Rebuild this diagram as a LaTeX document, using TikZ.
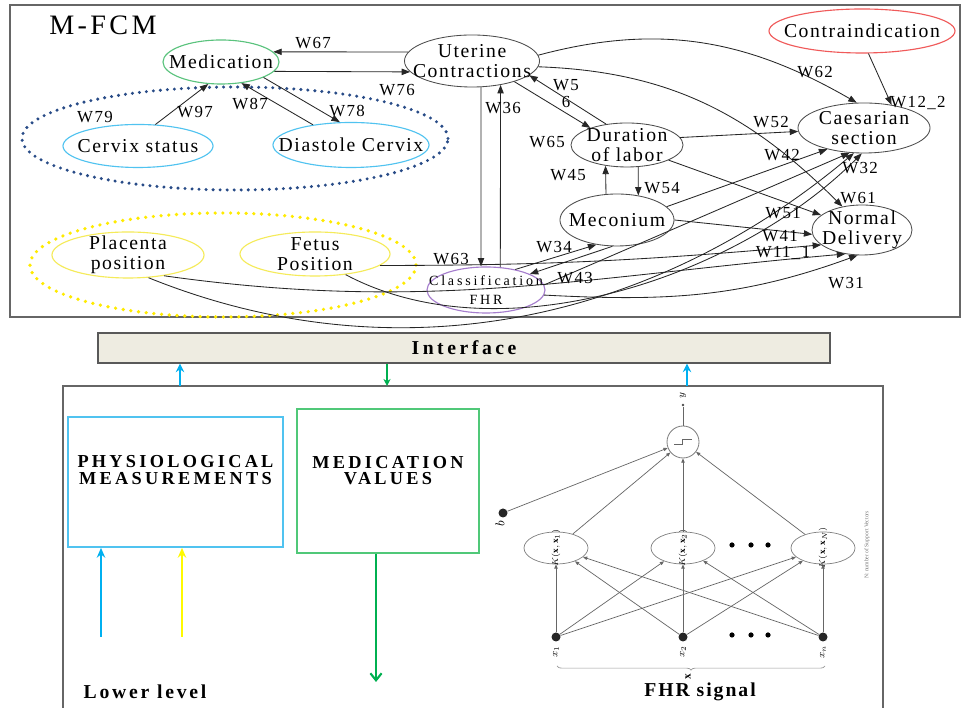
\documentclass[tikz,border=0pt]{standalone}
\usepackage{fontspec}
\setmainfont{Liberation Serif}
\usetikzlibrary{shapes.geometric,arrows.meta,decorations.pathreplacing}
\definecolor{medgreen}{RGB}{90,195,125}
\definecolor{cerblue}{RGB}{80,195,240}
\definecolor{posyellow}{RGB}{245,235,90}
\definecolor{contrared}{RGB}{240,90,90}
\definecolor{fhrpurple}{RGB}{165,125,205}
\definecolor{dotblue}{RGB}{40,75,135}
\definecolor{dotyellow}{RGB}{255,235,0}
\definecolor{ifbeige}{RGB}{238,236,225}
\definecolor{arrblue}{RGB}{0,176,240}
\definecolor{arryellow}{RGB}{255,250,0}
\definecolor{arrgreen}{RGB}{0,176,80}
\definecolor{boxgreen}{RGB}{80,200,120}
\begin{document}
\begin{tikzpicture}[x=0.025cm,y=0.025cm,
  >={Triangle[length=6pt,width=4.5pt]},
  fcm/.style={ellipse,draw=black!70,line width=0.6pt,inner sep=0pt},
  lbl/.style={font=\fontsize{14}{14.5}\selectfont\addfontfeatures{LetterSpace=8},align=center,inner sep=0pt},
  smalllbl/.style={font=\fontsize{10}{13.5}\selectfont\addfontfeatures{LetterSpace=20},align=center,inner sep=0pt},
  wt/.style={font=\fontsize{12}{12}\selectfont\addfontfeatures{LetterSpace=8},inner sep=0pt,align=center},
  edge/.style={->,line width=0.6pt,black!85},
  caps/.style={font=\fontsize{13}{12}\selectfont\bfseries\addfontfeatures{LetterSpace=18},align=center,inner sep=0pt},
  bold/.style={font=\fontsize{14}{14}\selectfont\bfseries\addfontfeatures{LetterSpace=14},inner sep=0pt},
  frame/.style={draw=black!60,line width=1.2pt},
  knode/.style={ellipse,draw=black!50,line width=0.5pt,minimum width=1.6cm,minimum height=0.8cm,inner sep=0pt},
  innode/.style={circle,fill=black!85,minimum size=0.225cm,inner sep=0pt},
  nnedge/.style={-{Triangle[length=3pt,width=2.4pt]},black!60,line width=0.5pt},
  tinylbl/.style={rotate=90,font=\fontsize{7}{7}\selectfont,inner sep=0pt}]
\useasboundingbox (0,0) rectangle (961,708);
\fill[white] (0,0) rectangle (961,708);

% upper level: M-FCM
\draw[frame] (10,391) rectangle (960,703);
\node[font=\fontsize{20}{20}\selectfont\addfontfeatures{LetterSpace=12},inner sep=0pt] (title) at (103,683) {M-FCM};
\draw[dotblue,line width=2.4pt,line cap=round,dash pattern=on 0pt off 5pt] (235,569.5) ellipse [x radius=213,y radius=51.5];
\draw[dotyellow,line width=2.6pt,line cap=round,dash pattern=on 0pt off 5.5pt] (223,443) ellipse [x radius=193,y radius=52];

\node[fcm,draw=medgreen,line width=0.8pt,minimum width=2.9cm,minimum height=1.1cm,label={[lbl]center:Medication}] (med) at (221,646) {};
\node[fcm,minimum width=3.375cm,minimum height=1.3cm,label={[lbl]center:{Uterine\\Contractions}}] (uc) at (472,647) {};
\node[fcm,draw=contrared,line width=0.8pt,minimum width=4.65cm,minimum height=1.1cm,label={[lbl]center:Contraindication}] (contra) at (862,677) {};
\node[fcm,minimum width=3.3cm,minimum height=1.25cm,label={[lbl]center:{Caesarian\\section}}] (cs) at (864,580) {};
\node[fcm,minimum width=2.5cm,minimum height=1.25cm,label={[lbl]center:{Normal\\Delivery}}] (nd) at (862,478) {};
\node[fcm,minimum width=2.8cm,minimum height=1.1cm,label={[lbl]center:{Duration\\of labor}}] (dol) at (627,563) {};
\node[fcm,minimum width=2.85cm,minimum height=1.3cm,label={[lbl]center:Meconium}] (mec) at (617,488) {};
\node[fcm,draw=fhrpurple,line width=0.8pt,minimum width=2.95cm,minimum height=1.15cm,label={[smalllbl]center:{Classification\\FHR}}] (fhr) at (486,418) {};
\node[fcm,draw=cerblue,line width=0.8pt,minimum width=3.75cm,minimum height=1.075cm,label={[lbl]center:Cervix status}] (cvs) at (138,562) {};
\node[fcm,draw=cerblue,line width=0.8pt,minimum width=3.9cm,minimum height=1.125cm,label={[lbl]center:Diastole Cervix}] (dc) at (351,563) {};
\node[fcm,draw=posyellow,line width=0.8pt,minimum width=3.8cm,minimum height=1.15cm,label={[lbl]center:{Placenta\\position}}] (pp) at (128,453) {};
\node[fcm,draw=posyellow,line width=0.8pt,minimum width=3.75cm,minimum height=1.1cm,label={[lbl]center:{Fetus\\Position}}] (fp) at (315,454) {};

% weights
\draw[edge] (uc.172) -- (med.11);
\draw[edge] (med.-10) -- (uc.190);
\draw[edge] (cvs.51) -- (med.-120);
\draw[edge] (dc.152) -- (med.-46);
\draw[edge] (med.-20) -- (dc.116);
\draw[edge] (uc.5) to[out=15,in=150] (cs.106);
\draw[edge] (uc.-5) to[out=-2,in=135] (nd.130);
\draw[edge] (contra.-74) -- (cs.40);
\draw[edge] (uc.-26) -- (dol.155);
\draw[edge] (dol.135) -- (uc.-14);
\draw[edge] (fhr.58) -- (uc.-40);
\draw[edge] (uc.-71) -- (fhr.102);
\draw[edge] (mec.113) -- (dol.-136);
\draw[edge] (dol.-63) -- (mec.49);
\draw[edge] (dol.8) -- (cs.183);
\draw[edge] (dol.-20) -- (nd.160);
\draw[edge] (mec.15) -- (cs.-150);
\draw[edge] (mec.0) -- (nd.185);
\draw[edge] (fhr.35) -- (mec.-130);
\draw[edge] (mec.-100) -- (fhr.20);
\draw[edge] (fhr.5) -- (cs.-120);
\draw[edge] (fhr.-5) to[out=-3,in=200] (nd.-100);
\draw[edge] (fp.-10) to[out=0,in=185] (nd.-160);
\draw[edge] (pp.-30) to[out=-8,in=185] (nd.-125);
\draw[edge] (pp.-48) to[out=-22,in=-140,looseness=0.95] (cs.-112);
\draw[edge] (fp.-34) to[out=-28,in=-135,looseness=0.85] (cs.-95);

\node[wt] (w67) at (313,665) {W67};
\node[wt] (w76) at (397,618) {W76};
\node[wt] (w97) at (195,596) {W97};
\node[wt] (w87) at (250,604) {W87};
\node[wt] (w78) at (347,597) {W78};
\node[wt] (w79) at (95,591) {W79};
\node[wt] (w62) at (815,636) {W62};
\node[wt] (w122) at (918,605) {W12\_2};
\node[wt] (w56) at (566,614) {W5\\6};
\node[wt] (w65) at (547,566) {W65};
\node[wt] (w36) at (503,600) {W36};
\node[wt] (w63) at (451,449) {W63};
\node[wt] (w45) at (568,533) {W45};
\node[wt] (w54) at (662,520) {W54};
\node[wt] (w52) at (771,586) {W52};
\node[wt] (w42) at (782,553) {W42};
\node[wt] (w32) at (860,540) {W32};
\node[wt] (w61) at (858,510) {W61};
\node[wt] (w51) at (783,495) {W51};
\node[wt] (w41) at (780,472) {W41};
\node[wt] (w111) at (783,455) {W11\_1};
\node[wt] (w34) at (554,461) {W34};
\node[wt] (w43) at (575,430) {W43};
\node[wt] (w31) at (846,425) {W31};

% interface
\node[draw=black!65,line width=1pt,fill=ifbeige,minimum width=18.3cm,minimum height=0.75cm,inner sep=0pt,font=\fontsize{14}{14}\selectfont\bfseries\addfontfeatures{LetterSpace=18}] (iface) at (464,360) {Interface};

% lower level
\draw[frame] (63,-5) -- (63,322) -- (883,322) -- (883,-5);
\coordinate (up1) at (180,322);
\coordinate (dn1) at (387,322);
\coordinate (up2) at (687,322);
\draw[-{Stealth[length=6pt,width=6pt]},arrblue,line width=1.6pt] (up1) -- (up1 |- iface.south);
\draw[-{Stealth[length=5pt,width=5pt]},arrgreen,line width=1.6pt] (dn1 |- iface.south) -- (dn1);
\draw[-{Stealth[length=6pt,width=6pt]},arrblue,line width=1.6pt] (up2) -- (up2 |- iface.south);

\node[draw=cerblue,line width=1.2pt,minimum width=5.375cm,minimum height=3.25cm,inner sep=0pt,label={[caps,yshift=0.29cm]center:{PHYSIOLOGICAL\\MEASUREMENTS}}] (phys) at (175.5,226) {};
\node[draw=boxgreen,line width=1.2pt,minimum width=4.55cm,minimum height=3.6cm,inner sep=0pt,label={[caps,yshift=0.26cm]center:{MEDICATION\\VALUES}}] (mval) at (388,227) {};
\coordinate (sens1) at (101,71);
\coordinate (sens2) at (182,71);
\coordinate (dose) at (376,26);
\draw[-{Stealth[length=7pt,width=6pt]},arrblue,line width=1.5pt] (sens1) -- (sens1 |- phys.south);
\draw[-{Stealth[length=7pt,width=6pt]},arryellow,line width=1.5pt] (sens2) -- (sens2 |- phys.south);
\draw[-{Straight Barb[length=5pt,width=8pt]},arrgreen,line width=1.5pt] (mval.south -| dose) -- (dose);
\node[bold] (lower) at (145,16) {Lower level};

% SVM network
\node[circle,draw=black!50,line width=0.6pt,minimum size=0.8cm,inner sep=0pt] (outn) at (683,266) {};
\draw[black!60,line width=0.6pt] ([xshift=-0.22cm,yshift=-0.07cm]outn.center) -- ++(0.2cm,0) -- ++(0,0.14cm) -- ++(0.24cm,0);
\node[circle,fill=black!70,minimum size=2pt,inner sep=0pt] (yd) at (683,303) {};
\node[tinylbl] (ylbl) at (683,313) {$y$};
\node[innode] (bn) at (503,195) {};
\node[tinylbl,font=\fontsize{9}{9}\selectfont] (blbl) at (500,184) {$b$};
\node[knode,label={[tinylbl,font=\fontsize{6.5}{6.5}\selectfont]center:$K(\mathbf{x},\mathbf{x}_1)$}] (k1) at (556,160) {};
\node[knode,label={[tinylbl,font=\fontsize{6.5}{6.5}\selectfont]center:$K(\mathbf{x},\mathbf{x}_2)$}] (k2) at (683,160) {};
\node[knode,label={[tinylbl,font=\fontsize{6.5}{6.5}\selectfont]center:$K(\mathbf{x},\mathbf{x}_N)$}] (k3) at (823,160) {};
\node[innode] (x1) at (556,71) {};
\node[innode] (x2) at (683,71) {};
\node[innode] (xn) at (823,71) {};
\node[tinylbl] (lx1) at (556,56) {$x_1$};
\node[tinylbl] (lx2) at (683,56) {$x_2$};
\node[tinylbl] (lxn) at (823,56) {$x_n$};
\foreach \i in {x1,x2,xn}
  \foreach \k in {k1,k2,k3}
    \draw[nnedge] (\i) -- (\k);
\foreach \k in {k1,k2,k3}
  \draw[nnedge] (\k) -- (outn);
\draw[nnedge] (bn) -- (outn);
\draw[black!60,line width=0.5pt] (outn) -- (yd);
\foreach \d in {732,751,768} {
  \fill (\d,163) circle (2.6);
  \fill (\d,73) circle (2.6);
}
\coordinate (brl) at (557,42);
\coordinate (brr) at (825,42);
\draw[black!40,line width=0.5pt,decorate,decoration={brace,mirror,amplitude=3pt}] (brl) -- (brr);
\node[tinylbl,font=\fontsize{8}{8}\selectfont] (xvec) at (688,31) {$\mathbf{x}$};
\node[rotate=90,font=\fontsize{4}{4}\selectfont,text=black!55,inner sep=0pt] (nsv) at (867,163) {N: number of Support Vectors};
\node[bold,font=\fontsize{14}{14}\selectfont\bfseries\addfontfeatures{LetterSpace=10}] (fhrsig) at (700,16) {FHR signal};
\end{tikzpicture}
\end{document}
